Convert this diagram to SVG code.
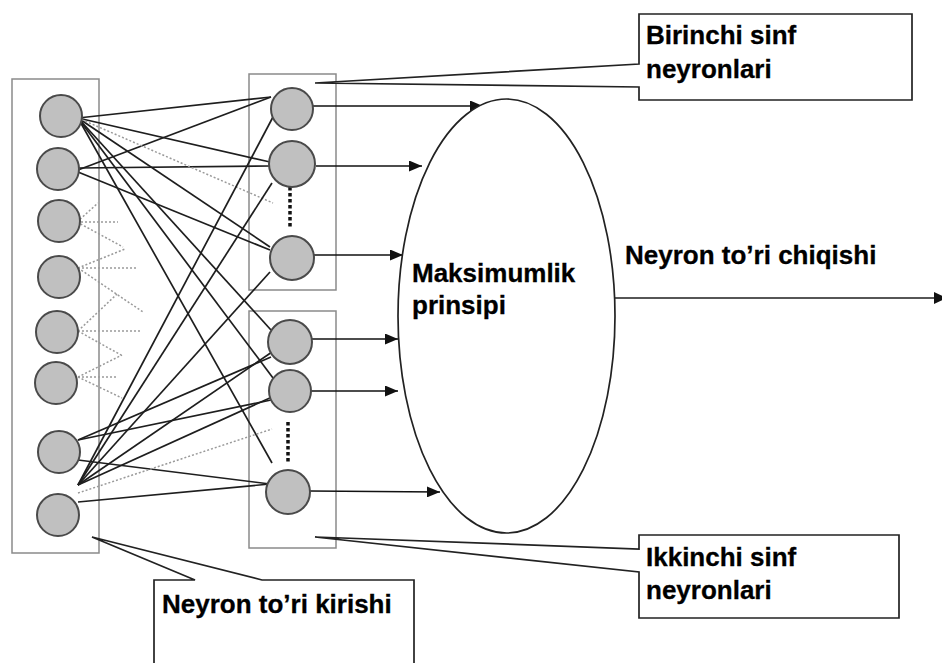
<svg xmlns="http://www.w3.org/2000/svg" width="942" height="663" viewBox="0 0 942 663">
  <style>
    .frame { fill: none; stroke: #8a8a8a; stroke-width: 1.5; }
    .neuron { fill: #c0c0c0; stroke: #4a4a4a; stroke-width: 2; }
    .link { stroke: #1e1e1e; stroke-width: 1.7; fill: none; }
    .weak { stroke: #9a9a9a; stroke-width: 1.5; stroke-dasharray: 2 2; fill: none; }
    .flow { stroke: #111; stroke-width: 1.7; fill: none; marker-end: url(#head); }
    .ellipsis { stroke: #111; stroke-width: 3.5; stroke-dasharray: 3.5 2.5; }
    .callout { fill: #fff; stroke: #222; stroke-width: 1.7; }
    .label { font-family: "Liberation Sans", Arial, sans-serif; font-weight: bold; font-size: 26px; fill: #000; stroke: #000; stroke-width: 0.3; }
  </style>
  <defs>
    <marker id="head" viewBox="0 0 13 11" refX="13" refY="5.5" markerWidth="13" markerHeight="11" markerUnits="userSpaceOnUse" orient="auto">
      <path d="M0,0 L13,5.5 L0,11 Z" fill="#111"/>
    </marker>
  </defs>

  <rect width="942" height="663" fill="#fff"/>

  <!-- layer frames -->
  <g id="input-layer-frame"><rect class="frame" x="12" y="79" width="87" height="474"/></g>
  <g id="class1-frame"><rect class="frame" x="249" y="74" width="87" height="216"/></g>
  <g id="class2-frame"><rect class="frame" x="249" y="311" width="87" height="237"/></g>

  <!-- connections between input neurons and class neurons -->
  <g id="connectors">
    <!-- from upper input neurons -->
    <line class="link" x1="78" y1="118" x2="271" y2="97"/>
    <line class="link" x1="78" y1="170" x2="271" y2="97"/>
    <line class="link" x1="78" y1="118" x2="270" y2="162"/>
    <line class="link" x1="78" y1="168" x2="270" y2="166"/>
    <line class="link" x1="78" y1="118" x2="270" y2="247"/>
    <line class="link" x1="78" y1="172" x2="270" y2="250"/>
    <line class="link" x1="78" y1="118" x2="271" y2="330"/>
    <line class="link" x1="78" y1="118" x2="273" y2="378"/>
    <line class="link" x1="78" y1="118" x2="272" y2="463"/>
    <line class="weak" x1="78" y1="118" x2="273" y2="203"/>

    <!-- from lower input neurons -->
    <line class="link" x1="78" y1="485" x2="273" y2="117"/>
    <line class="link" x1="78" y1="485" x2="272" y2="183"/>
    <line class="link" x1="78" y1="485" x2="270" y2="272"/>
    <line class="link" x1="78" y1="485" x2="272" y2="352"/>
    <line class="link" x1="78" y1="485" x2="272" y2="397"/>
    <line class="link" x1="78" y1="440" x2="271" y2="357"/>
    <line class="link" x1="78" y1="440" x2="271" y2="400"/>
    <line class="link" x1="78" y1="460" x2="270" y2="484"/>
    <line class="link" x1="78" y1="502" x2="270" y2="484"/>
    <line class="weak" x1="78" y1="493" x2="272" y2="429"/>

    <!-- weak links of the middle input neurons -->
    <line class="weak" x1="77" y1="222" x2="98" y2="203"/>
    <line class="weak" x1="77" y1="222" x2="118" y2="222"/>
    <line class="weak" x1="77" y1="222" x2="123" y2="247"/>
    <line class="weak" x1="78" y1="268" x2="125" y2="249"/>
    <line class="weak" x1="78" y1="268" x2="138" y2="268"/>
    <line class="weak" x1="78" y1="268" x2="143" y2="312"/>
    <line class="weak" x1="78" y1="331" x2="117" y2="294"/>
    <line class="weak" x1="78" y1="331" x2="140" y2="331"/>
    <line class="weak" x1="78" y1="331" x2="121" y2="355"/>
    <line class="weak" x1="78" y1="377" x2="122" y2="355"/>
    <line class="weak" x1="78" y1="377" x2="118" y2="377"/>
    <line class="weak" x1="78" y1="377" x2="122" y2="398"/>

    <!-- class neurons to the decision block -->
    <line class="flow" x1="313" y1="106" x2="483" y2="106"/>
    <line class="flow" x1="316" y1="166" x2="422" y2="166"/>
    <line class="flow" x1="314" y1="255" x2="403" y2="255"/>
    <line class="flow" x1="312" y1="339" x2="398" y2="339"/>
    <line class="flow" x1="311" y1="391" x2="398" y2="391"/>
    <line class="flow" x1="310" y1="491" x2="440" y2="492"/>

    <!-- network output -->
    <line class="link" x1="615" y1="298" x2="936" y2="298" stroke-width="1.8"/>
    <path d="M934,292 L947,298 L934,304 Z" fill="#111"/>

    <!-- ellipsis marks inside the class frames -->
    <line class="ellipsis" x1="290" y1="187" x2="290" y2="227"/>
    <line class="ellipsis" x1="288" y1="422" x2="288" y2="462"/>
  </g>

  <!-- input neurons -->
  <g id="in1"><circle class="neuron" cx="61" cy="116" r="21"/></g>
  <g id="in2"><circle class="neuron" cx="58" cy="169" r="21"/></g>
  <g id="in3"><circle class="neuron" cx="59" cy="221" r="21"/></g>
  <g id="in4"><circle class="neuron" cx="59" cy="277" r="21"/></g>
  <g id="in5"><circle class="neuron" cx="57" cy="332" r="21"/></g>
  <g id="in6"><circle class="neuron" cx="56" cy="383" r="21"/></g>
  <g id="in7"><circle class="neuron" cx="59" cy="452" r="21"/></g>
  <g id="in8"><circle class="neuron" cx="58" cy="515" r="21"/></g>

  <!-- first class neurons -->
  <g id="c1a"><circle class="neuron" cx="292" cy="109" r="21"/></g>
  <g id="c1b"><circle class="neuron" cx="292" cy="164" r="23"/></g>
  <g id="c1c"><circle class="neuron" cx="292" cy="258" r="22"/></g>

  <!-- second class neurons -->
  <g id="c2a"><circle class="neuron" cx="290" cy="342" r="22"/></g>
  <g id="c2b"><circle class="neuron" cx="290" cy="391" r="21"/></g>
  <g id="c2c"><circle class="neuron" cx="288" cy="492" r="22"/></g>

  <!-- decision block -->
  <g id="max-principle">
    <ellipse cx="506.5" cy="316" rx="108.5" ry="217" fill="#fff" stroke="#222" stroke-width="1.7"/>
    <text class="label" x="412" y="282">Maksimumlik</text>
    <text class="label" x="412" y="314">prinsipi</text>
  </g>

  <g id="output-label">
    <text class="label" x="625" y="264">Neyron to’ri chiqishi</text>
  </g>

  <!-- callouts -->
  <g id="callout-class1">
    <path class="callout" d="M639,14 H912 V100 H639 V87 L315,83 L639,64 Z"/>
    <text class="label" x="646" y="44">Birinchi sinf</text>
    <text class="label" x="646" y="78">neyronlari</text>
  </g>

  <g id="callout-class2">
    <path class="callout" d="M639,535 H899 V618 H639 V572 L315,537 L639,549 Z"/>
    <text class="label" x="646" y="566">Ikkinchi sinf</text>
    <text class="label" x="646" y="599">neyronlari</text>
  </g>

  <g id="callout-input">
    <path class="callout" d="M154,670 V580 H195 L92,537 L262,580 H414 V670"/>
    <text class="label" x="162" y="613">Neyron to’ri kirishi</text>
  </g>
</svg>
